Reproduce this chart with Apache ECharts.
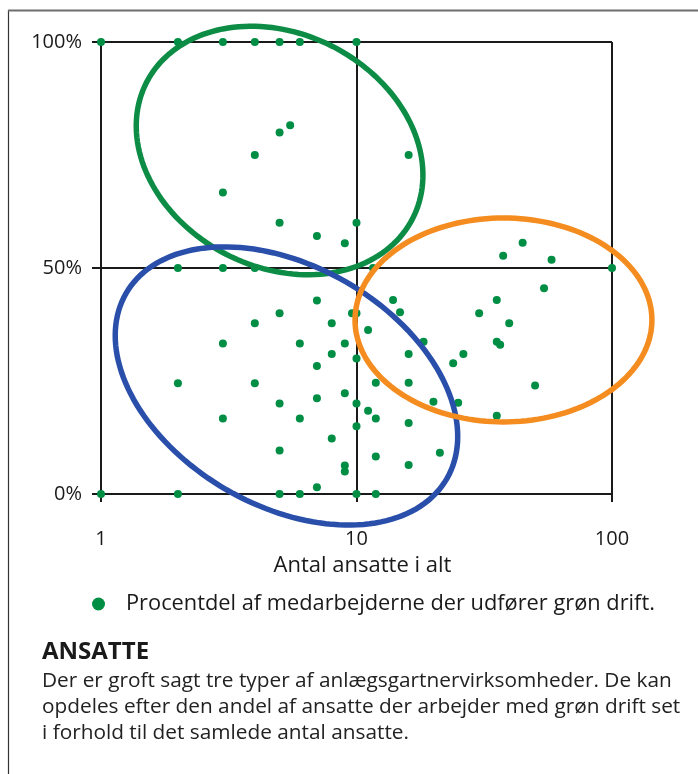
<!DOCTYPE html>
<html>
<head>
<meta charset="utf-8">
<script src="https://cdn.jsdelivr.net/npm/echarts@6/dist/echarts.min.js"></script>
<style>
html,body{margin:0;padding:0;background:#fff;}
#chart{width:698px;height:774px;}
</style>
</head>
<body>
<div id="chart"></div>
<script>
// ---- Data ----
const xTickLabels = ['1', '10', '100'];
const yTickLabels = ['0%', '50%', '100%'];
const seriesName = 'Procentdel af medarbejderne der udfører grøn drift.';
const xLabel = 'Antal ansatte i alt';
const titleText = 'ANSATTE';
const bodyLines = [
  'Der er groft sagt tre typer af anlægsgartnervirksomheder. De kan',
  'opdeles efter den andel af ansatte der arbejder med grøn drift set',
  'i forhold til det samlede antal ansatte.'
];
// number of employees per company
const employees = [
  1, 1,
  2, 2, 2, 2,
  3, 3, 3, 3, 3,
  4, 4, 4, 4, 4,
  5, 5, 5, 5, 5, 5, 5,
  5.5,
  6, 6, 6, 6,
  7, 7, 7, 7, 7,
  8, 8, 8,
  9, 9, 9, 9, 9, 9.6,
  10, 10, 10, 10, 10, 10, 10,
  11.1, 11.1, 11.6,
  11.9, 11.9, 11.9, 11.9,
  13.9, 14.8,
  16, 16, 16, 16, 16,
  18.3, 20, 21.2, 23.9, 25, 26.2, 30.2,
  35.4, 35.4, 35.4, 36.5, 37.5, 39.6, 44.7, 50, 54.2, 58, 100
];
// share of staff doing green maintenance (%)
const greenShare = [
  100, 0,
  100, 50, 24.5, 0,
  100, 66.7, 50, 33.3, 16.7,
  100, 75, 50, 37.8, 24.5,
  100, 80, 60, 40, 20, 9.6, 0,
  81.6,
  100, 33.3, 16.7, 0,
  57.1, 42.8, 28.3, 21.2, 1.5,
  37.8, 31, 12.3,
  55.5, 33.3, 22.3, 6.3, 5, 40,
  100, 60, 40, 30, 20, 15, 0,
  36.3, 18.4, 50,
  24.6, 16.7, 8.3, 0,
  42.9, 40.2,
  75, 31, 24.6, 15.7, 6.4,
  33.7, 20.4, 9.1, 28.9, 20.2, 31, 40,
  42.9, 33.7, 17.3, 33, 52.7, 37.8, 55.6, 24, 45.5, 51.8, 50
];

// ---- Annotation ellipses (centre in data units, semi-axes in decades of x, rotation in degrees) ----
const ellipseCenterX = [5.0, 5.32, 37.6];
const ellipseCenterY = [76.0, 23.9, 38.5];
const ELLIPSE_SHAPE = [
  { a: 0.585, b: 0.457, rot: 27, color: '#0d8c46' },
  { a: 0.725, b: 0.469, rot: 30, color: '#2a4fab' },
  { a: 0.581, b: 0.399, rot: 0, color: '#f48c1f' }
];

const points = employees.map((v, i) => [v, greenShare[i]]);
const ellipseData = ellipseCenterX.map((v, i) => [v, ellipseCenterY[i]]);

const FONT = '"Open Sans", "Noto Sans", sans-serif';
const GREEN = '#008d44';

const chart = echarts.init(document.getElementById('chart'), null, { renderer: 'canvas' });

chart.setOption({
  animation: false,
  backgroundColor: '#fff',
  textStyle: { fontFamily: FONT },
  grid: { left: 101, right: 86, top: 42, bottom: 280, containLabel: false },
  title: {
    text: titleText,
    subtext: bodyLines.join('\n'),
    left: 42,
    top: 640,
    itemGap: 4,
    padding: 0,
    textStyle: { fontFamily: FONT, fontWeight: 'bold', fontSize: 24, color: '#1a1a1a' },
    subtextStyle: { fontFamily: FONT, fontSize: 20.8, lineHeight: 26, color: '#222' }
  },
  legend: {
    data: [seriesName],
    left: 92,
    top: 593,
    padding: 0,
    icon: 'circle',
    itemWidth: 13,
    itemHeight: 13,
    textStyle: { fontFamily: FONT, fontSize: 21.8, color: '#1a1a1a', padding: [0, 0, 0, 16] }
  },
  xAxis: {
    type: 'log',
    logBase: 10,
    min: 1,
    max: 100,
    name: xLabel,
    nameLocation: 'middle',
    nameGap: 61,
    nameTextStyle: { fontFamily: FONT, fontSize: 22, color: '#1a1a1a', padding: [0, 0, 0, 12] },
    axisLine: { show: true, lineStyle: { color: '#1a1a1a', width: 2 } },
    axisTick: { show: true, length: 8, lineStyle: { color: '#1a1a1a', width: 2 } },
    axisLabel: {
      margin: 35,
      fontSize: 20,
      color: '#1a1a1a',
      formatter: (v) => {
        const idx = Math.round(Math.log10(v));
        return xTickLabels[idx] !== undefined ? xTickLabels[idx] : '';
      }
    },
    splitLine: { show: true, lineStyle: { color: '#1a1a1a', width: 2 } },
    minorTick: { show: false },
    minorSplitLine: { show: false }
  },
  yAxis: {
    type: 'value',
    min: 0,
    max: 100,
    interval: 50,
    axisLine: { show: true, lineStyle: { color: '#1a1a1a', width: 2 } },
    axisTick: { show: true, length: 9, lineStyle: { color: '#1a1a1a', width: 2 } },
    axisLabel: {
      margin: 19,
      fontSize: 20,
      color: '#1a1a1a',
      formatter: (v) => yTickLabels[Math.round(v / 50)]
    },
    splitLine: { show: true, lineStyle: { color: '#1a1a1a', width: 2 } }
  },
  graphic: [
    { type: 'line', shape: { x1: 8.5, y1: 10, x2: 8.5, y2: 774 }, style: { stroke: '#333', lineWidth: 1.2 }, silent: true },
    { type: 'line', shape: { x1: 8, y1: 10.5, x2: 698, y2: 10.5 }, style: { stroke: '#6e6e6e', lineWidth: 2 }, silent: true }
  ],
  series: [
    {
      name: seriesName,
      type: 'scatter',
      data: points,
      symbol: 'circle',
      symbolSize: 8,
      itemStyle: { color: GREEN, opacity: 1 },
      clip: false,
      z: 3
    },
    {
      name: 'ellipses',
      type: 'custom',
      coordinateSystem: 'cartesian2d',
      data: ellipseData,
      clip: false,
      silent: true,
      z: 4,
      renderItem: function (params, api) {
        const e = ELLIPSE_SHAPE[params.dataIndex];
        const c = api.coord([api.value(0), api.value(1)]);
        const dec = api.coord([10, 0])[0] - api.coord([1, 0])[0];
        const a = e.a * dec, b = e.b * dec, th = e.rot * Math.PI / 180;
        const pts = [];
        const N = 160;
        for (let i = 0; i < N; i++) {
          const t = i / N * Math.PI * 2;
          const x = a * Math.cos(t), y = b * Math.sin(t);
          pts.push([c[0] + x * Math.cos(th) - y * Math.sin(th), c[1] + x * Math.sin(th) + y * Math.cos(th)]);
        }
        return {
          type: 'polygon',
          shape: { points: pts },
          style: { fill: 'none', stroke: e.color, lineWidth: 5.5 }
        };
      }
    }
  ]
});
</script>
</body>
</html>
